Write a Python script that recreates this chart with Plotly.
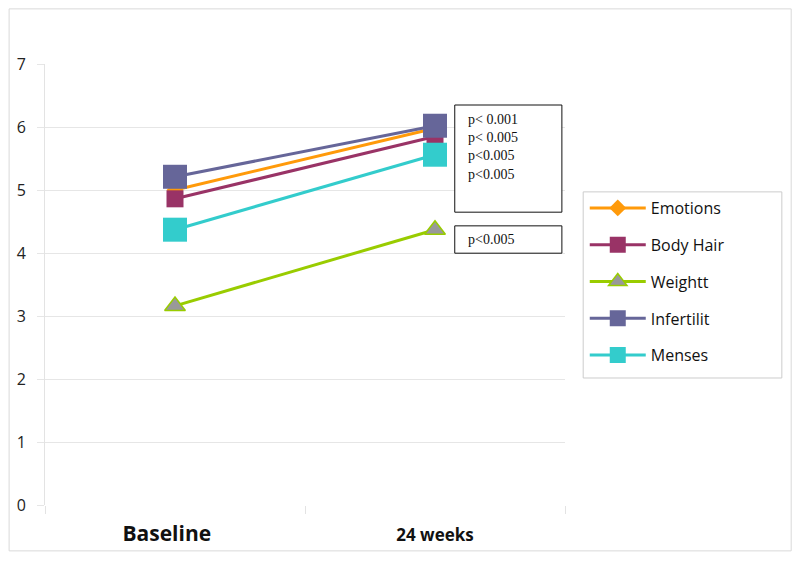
import plotly.graph_objects as go

categories = ["Baseline", "24 weeks"]
series_names = ["Emotions", "Body Hair", "Weightt", "Infertilit", "Menses"]
emotions = [5.0, 5.98]
body_hair = [4.86, 5.85]
weight = [3.16, 4.37]
infertility = [5.21, 6.02]
menses = [4.37, 5.56]
y_ticks = [0, 1, 2, 3, 4, 5, 6, 7]
p_values_top = ["p< 0.001", "p< 0.005", "p<0.005", "p<0.005"]
p_value_weight = "p<0.005"

values = [emotions, body_hair, weight, infertility, menses]
line_colors = ["#FF9A0A", "#993366", "#99CC00", "#666699", "#33CCCC"]
marker_colors = ["#FF9A0A", "#993366", "#999999", "#666699", "#33CCCC"]
marker_line = ["#FF9A0A", "#993366", "#99CC00", "#666699", "#33CCCC"]
symbols = ["diamond", "square", "triangle-up", "square", "square"]
sizes = [13, 17, 18, 24, 24]

fig = go.Figure()
for name, vals, lc, mc, ml, sym, sz in zip(series_names, values, line_colors, marker_colors, marker_line, symbols, sizes):
    fig.add_trace(go.Scatter(
        x=categories, y=vals, name=name, mode="lines+markers",
        line=dict(color=lc, width=3),
        marker=dict(symbol=sym, size=sz, color=mc, line=dict(color=ml, width=1.5 if sym == "triangle-up" else 0)),
        legendgroup=name,
    ))

fig.update_layout(
    width=800, height=562,
    margin=dict(l=37, r=243, t=56, b=65, autoexpand=False),
    paper_bgcolor="white", plot_bgcolor="white",
    font=dict(family="Open Sans, Liberation Sans, sans-serif", color="#222222"),
    xaxis=dict(
        type="category", range=[-0.5, 1.5], automargin=False,
        tickmode="array", tickvals=categories,
        ticktext=["<b><span style='font-size:21px'>" + categories[0] + "&nbsp;&nbsp;&nbsp;</span></b>",
                  "<b>" + categories[1] + "</b>"],
        tickfont=dict(size=17, color="#111111"),
        tickson="boundaries", ticks="outside", ticklen=8, tickcolor="#e3e3e3",
        showgrid=False, showline=False, zeroline=False,
        ticklabelstandoff=18,
    ),
    yaxis=dict(
        range=[0, 7], tickvals=y_ticks, tickfont=dict(size=16, color="#222222"),
        automargin=False,
        showgrid=True, gridcolor="#e6e6e6", gridwidth=1,
        ticks="outside", ticklen=7, tickcolor="#e6e6e6",
        showline=True, linecolor="#e3e3e3", linewidth=1, zeroline=False,
        ticklabelstandoff=8,
    ),
    legend=dict(
        x=1.038, y=0.712, xanchor="left", yanchor="top",
        borderwidth=0, bgcolor="rgba(0,0,0,0)",
        font=dict(size=16, family="Open Sans, Liberation Sans, sans-serif", color="#111111"),
        tracegroupgap=13, itemwidth=56,
    ),
    shapes=[
        dict(type="rect", xref="paper", yref="paper", x0=-0.069, x1=1.435, y0=-0.104, y1=1.125,
             line=dict(color="#d9d9d9", width=1)),
        dict(type="rect", xref="paper", yref="paper", x0=1.035, x1=1.417, y0=0.288, y1=0.710,
             line=dict(color="#cccccc", width=1)),
        dict(type="rect", xref="paper", yref="paper", x0=0.788, x1=0.994, y0=0.664, y1=0.907,
             line=dict(color="#111111", width=1), fillcolor="white", layer="above"),
        dict(type="rect", xref="paper", yref="paper", x0=0.788, x1=0.994, y0=0.571, y1=0.633,
             line=dict(color="#111111", width=1), fillcolor="white", layer="above"),
    ],
)

fig.add_annotation(
    xref="paper", yref="paper", x=0.81, y=0.895, xanchor="left", yanchor="top",
    text="<br>".join(p_values_top), showarrow=False, align="left",
    font=dict(family="Liberation Serif, Times New Roman, serif", size=14, color="#111111"),
)
fig.add_annotation(
    xref="paper", yref="paper", x=0.81, y=0.602, xanchor="left", yanchor="middle",
    text=p_value_weight, showarrow=False, align="left",
    font=dict(family="Liberation Serif, Times New Roman, serif", size=14, color="#111111"),
)

fig.write_html("out.html")
